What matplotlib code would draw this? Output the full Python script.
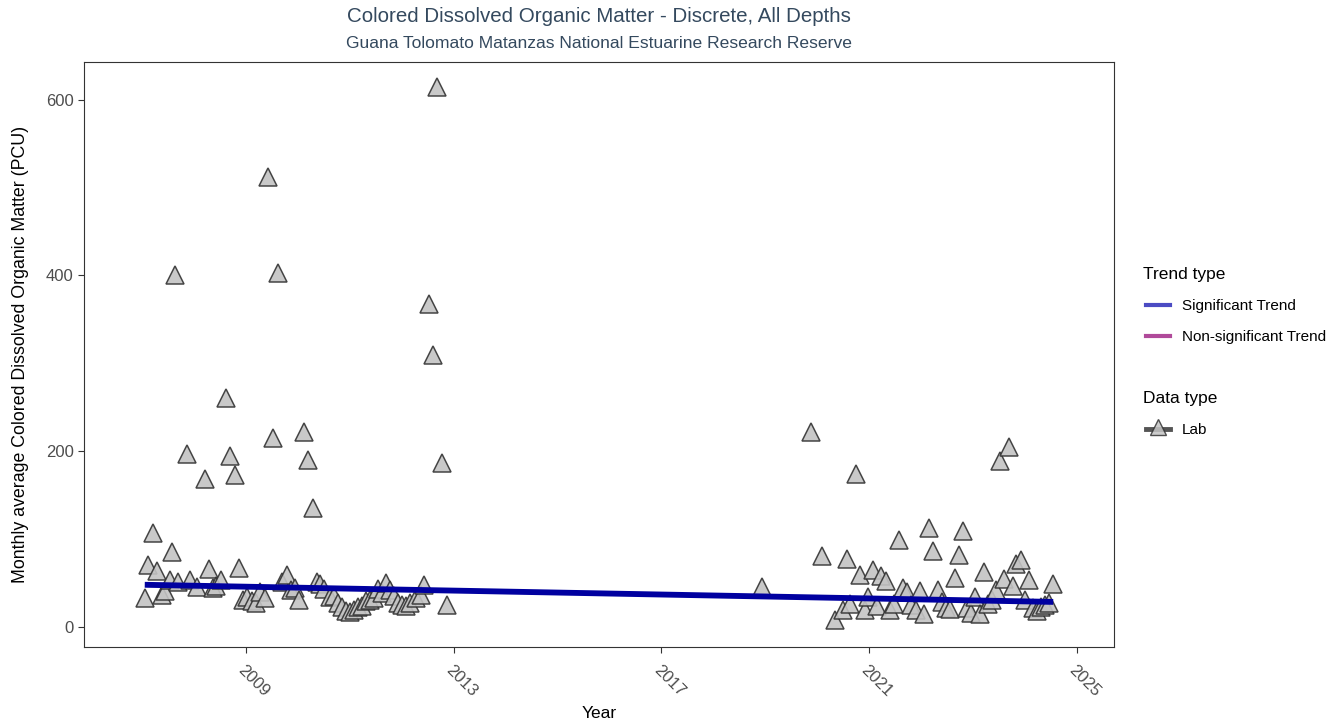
import numpy as np
import matplotlib.pyplot as plt
from matplotlib.lines import Line2D

plt.rcParams['font.family'] = ['Liberation Sans', 'DejaVu Sans']

# Monthly averages (decimal year, PCU)
years_early = [2007.05, 2007.11, 2007.21, 2007.29, 2007.38, 2007.44, 2007.54, 2007.57,
               2007.63, 2007.69, 2007.86, 2007.92, 2008.06, 2008.21, 2008.29, 2008.36,
               2008.42, 2008.52, 2008.61, 2008.69, 2008.79, 2008.87, 2008.94, 2009.02,
               2009.12, 2009.19, 2009.27, 2009.37, 2009.42, 2009.52, 2009.62, 2009.69,
               2009.79, 2009.87, 2009.94, 2010.02, 2010.12, 2010.19, 2010.29, 2010.37,
               2010.43, 2010.50, 2010.62, 2010.70, 2010.77, 2010.85, 2010.93, 2011.00,
               2011.08, 2011.16, 2011.24, 2011.31, 2011.39, 2011.47, 2011.54, 2011.62,
               2011.70, 2011.77, 2011.85, 2011.93, 2012.01, 2012.08, 2012.16, 2012.28,
               2012.37, 2012.43, 2012.53, 2012.60, 2012.68, 2012.78, 2012.87]
cdom_early = [33, 70, 107, 64, 36, 41, 53, 85,
              400, 51, 197, 53, 45, 168, 66, 44,
              47, 53, 261, 194, 173, 67, 31, 34,
              30, 27, 40, 33, 512, 215, 403, 51,
              59, 42, 44, 31, 222, 190, 135, 51,
              49, 43, 34, 35, 27, 23, 18, 17,
              19, 23, 24, 30, 31, 33, 43, 39,
              50, 42, 35, 27, 25, 24, 27, 33,
              36, 48, 367, 310, 615, 187, 25]

years_late = [2018.94, 2019.89, 2020.10, 2020.35, 2020.50, 2020.58, 2020.64, 2020.75,
              2020.83, 2020.93, 2020.98, 2021.08, 2021.16, 2021.24, 2021.33, 2021.41,
              2021.49, 2021.58, 2021.66, 2021.74, 2021.81, 2021.91, 2021.99, 2022.06,
              2022.16, 2022.24, 2022.33, 2022.41, 2022.49, 2022.56, 2022.66, 2022.74,
              2022.82, 2022.89, 2022.97, 2023.05, 2023.14, 2023.22, 2023.30, 2023.37,
              2023.45, 2023.53, 2023.60, 2023.70, 2023.78, 2023.84, 2023.93, 2024.01,
              2024.09, 2024.16, 2024.24, 2024.32, 2024.40, 2024.47, 2024.55]
cdom_late = [46, 222, 81, 8, 19, 77, 26, 174,
             59, 19, 34, 65, 24, 58, 52, 19,
             26, 99, 44, 40, 25, 19, 41, 15,
             113, 86, 42, 28, 22, 20, 56, 82,
             109, 22, 16, 34, 15, 63, 26, 31,
             42, 189, 55, 205, 47, 72, 76, 31,
             53, 22, 18, 23, 25, 27, 49]

# Fitted trend (start / end of record)
trend_years = [2007.05, 2024.55]
trend_values = [48.0, 28.5]

years = np.array(years_early + years_late)
cdom = np.array(cdom_early + cdom_late)

x_ticks = [2009, 2013, 2017, 2021, 2025]
y_ticks = [0, 200, 400, 600]

fig = plt.figure(figsize=(13.4, 7.25), dpi=100)
ax = fig.add_axes([0.0627, 0.1076, 0.7686, 0.8069])

ax.plot(years, cdom, linestyle='none', marker='^', markersize=13,
        markerfacecolor='#c4c4c4', markeredgecolor='#333333',
        markeredgewidth=1.1, alpha=0.9, zorder=2)
ax.plot(trend_years, trend_values, color='#0000a0', linewidth=4.2,
        solid_capstyle='butt', zorder=3)

ax.set_xlim(2005.88, 2025.72)
ax.set_ylim(-22.8, 643)
ax.set_xticks(x_ticks)
ax.set_xticklabels([str(t) for t in x_ticks], rotation=-45, ha='left',
                   va='top', rotation_mode='anchor')
ax.set_yticks(y_ticks)
ax.tick_params(axis='both', colors='#333333', labelcolor='#4d4d4d',
               labelsize=12, length=4, width=0.8)
ax.tick_params(axis='x', pad=7)
for sp in ax.spines.values():
    sp.set_color('#333333')
    sp.set_linewidth(0.8)

ax.set_xlabel('Year', fontsize=12.5, color='black', labelpad=5)
ax.set_ylabel('Monthly average Colored Dissolved Organic Matter (PCU)',
              fontsize=12.8, color='black', labelpad=12)

fig.text(599 / 1340, 1 - 17 / 725,
         'Colored Dissolved Organic Matter - Discrete, All Depths',
         ha='center', va='center', fontsize=14.8, color='#34495e')
fig.text(599 / 1340, 1 - 44 / 725,
         'Guana Tolomato Matanzas National Estuarine Research Reserve',
         ha='center', va='center', fontsize=12.6, color='#34495e')

# Legend, drawn in figure pixels
def fx(px):
    return px / 1340


def fy(py):
    return 1 - py / 725


fig.text(fx(1143), fy(274), 'Trend type', fontsize=12.5, va='center', ha='left')
fig.add_artist(Line2D([fx(1146), fx(1170)], [fy(305), fy(305)],
                      color='#4b4bc3', linewidth=3))
fig.text(fx(1182), fy(306), 'Significant Trend', fontsize=11, va='center')
fig.add_artist(Line2D([fx(1146), fx(1170)], [fy(336), fy(336)],
                      color='#b04a9a', linewidth=3))
fig.text(fx(1182), fy(337), 'Non-significant Trend', fontsize=11, va='center')

fig.text(fx(1143), fy(398), 'Data type', fontsize=12.5, va='center', ha='left')
fig.add_artist(Line2D([fx(1146), fx(1170)], [fy(429), fy(429)],
                      color='#555555', linewidth=3.5))
fig.add_artist(Line2D([fx(1158)], [fy(427)], linestyle='none', marker='^',
                      markersize=11, markerfacecolor='#c4c4c4',
                      markeredgecolor='#333333', markeredgewidth=1.0, alpha=0.85))
fig.text(fx(1182), fy(430), 'Lab', fontsize=11, va='center')

fig.savefig('out.png', dpi=100)
